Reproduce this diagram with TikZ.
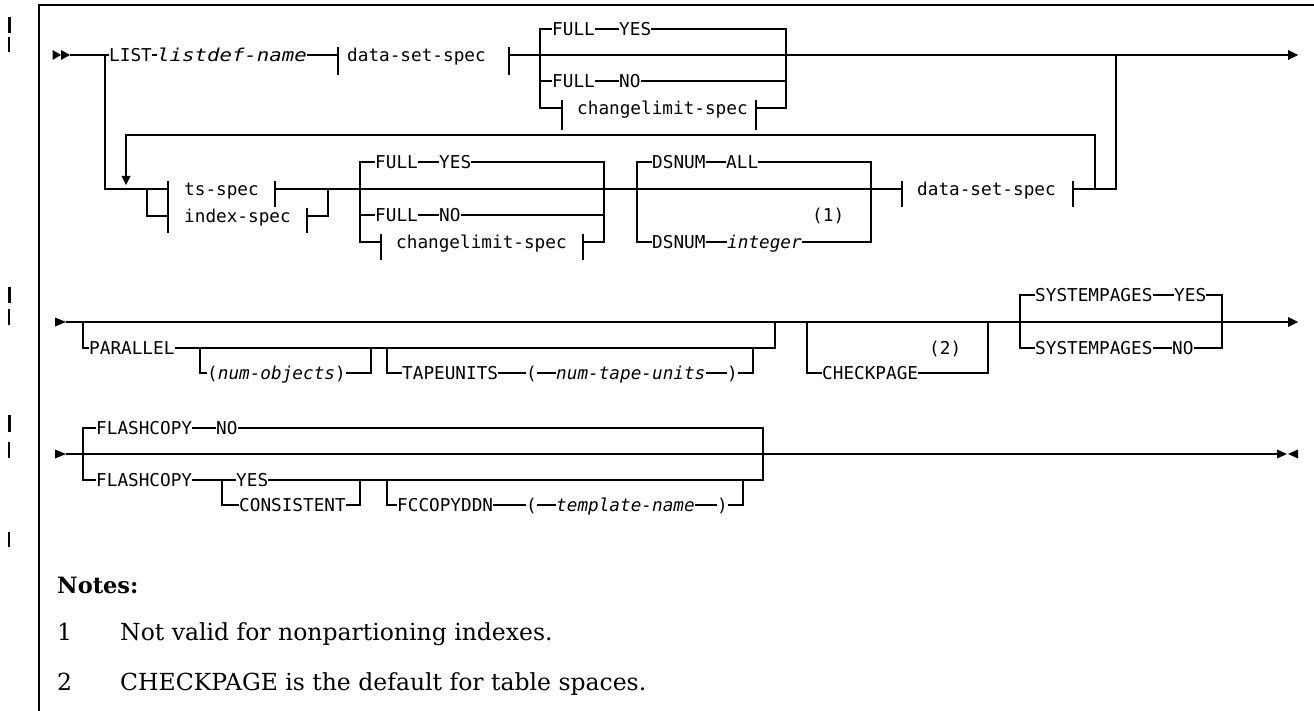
\documentclass[tikz,border=0pt]{standalone}
\usepackage{fontspec}
\usepackage{graphicx}
\newfontfamily\mymono{DejaVu Sans Mono}
\newfontfamily\myserif{DejaVu Serif}
\newcommand{\monof}{\mymono\fontsize{17.7}{20}\selectfont}
\newcommand{\notef}{\myserif\fontsize{23.5}{27}\selectfont}
\newcommand{\notebf}{\myserif\bfseries\fontsize{22.5}{27}\selectfont}
\begin{document}
\begin{tikzpicture}[x=1pt,y=-1pt,
  rail/.style={line width=1.5pt},
  kw/.style={anchor=west,inner sep=0pt,font=\monof,text height=12.9pt,text depth=0pt},
  note/.style={anchor=base west,inner sep=0pt,font=\notef}]
\useasboundingbox (0,0) rectangle (1314,711);
% frame
\draw[line width=1.3pt] (39,711) -- (39,5) -- (1314,5);
% change bars
\draw[line width=3pt] (9,17) -- (9,33);
\draw[line width=1.3pt] (9,37) -- (9,52);
\draw[line width=3pt] (9,287) -- (9,303);
\draw[line width=1.3pt] (9,309) -- (9,325);
\draw[line width=3pt] (9,415) -- (9,432);
\draw[line width=1.3pt] (9,442) -- (9,458);
\draw[line width=1.3pt] (9,532) -- (9,547);

% ---------------- Row 1 ----------------
\fill (52.5,50) -- (61,55) -- (52.5,60) -- cycle;
\fill (61,50) -- (70,55) -- (61,60) -- cycle;
\fill (1288,50) -- (1298,55) -- (1288,60) -- cycle;
\node[kw] (list) at (109,55) {LIST};
\node[kw] (ldn) at (157,55) {\scalebox{1.17}[1]{\itshape listdef-name}};
\node[kw] (dss1) at (347,55) {data-set-spec};
\node[kw] (fulla) at (552,29) {FULL};
\node[kw] (yesa) at (619,29) {YES};
\node[kw] (fullb) at (552,81) {FULL};
\node[kw] (nob) at (619,81) {NO};
\node[kw] (cls1) at (577,108) {changelimit-spec};
\draw[rail] (70,55) -- (list.west);
\draw[rail] (list.east) -- (ldn.west);
\draw[rail] (ldn.east) -- (338,55);
\draw[rail] (338,47) -- (338,75);
\draw[rail] (509,47) -- (509,75);
\draw[rail] (509,55) -- (1288,55);
\draw[rail] (fulla.west) -- (540,29) -- (540,108) -- (562,108);
\draw[rail] (fulla.east) -- (yesa.west);
\draw[rail] (yesa.east) -- (786,29) -- (786,108) -- (756,108);
\draw[rail] (540,81) -- (fullb.west);
\draw[rail] (fullb.east) -- (nob.west);
\draw[rail] (nob.east) -- (786,81);
\draw[rail] (562,100) -- (562,130);
\draw[rail] (756,100) -- (756,130);

% ---------------- Row 2 ----------------
\draw[rail] (105,55) -- (105,189) -- (168,189);
\draw[rail] (147,189) -- (147,216) -- (168,216);
\draw[rail] (168,181) -- (168,233);
\node[kw] (ts) at (184,189) {ts-spec};
\node[kw] (ix) at (184,216) {index-spec};
\draw[rail] (275,181) -- (275,207);
\draw[rail] (307,208) -- (307,233);
\draw[rail] (307,216) -- (328,216) -- (328,189);
\draw[rail] (275,189) -- (902,189);
\node[kw] (fullc) at (375,162) {FULL};
\node[kw] (yesc) at (439,162) {YES};
\node[kw] (fulld) at (375,215) {FULL};
\node[kw] (nod) at (439,215) {NO};
\node[kw] (cls2) at (396,242) {changelimit-spec};
\draw[rail] (fullc.west) -- (360,162) -- (360,242) -- (381,242);
\draw[rail] (fullc.east) -- (yesc.west);
\draw[rail] (yesc.east) -- (604,162) -- (604,242) -- (583,242);
\draw[rail] (360,215) -- (fulld.west);
\draw[rail] (fulld.east) -- (nod.west);
\draw[rail] (nod.east) -- (604,215);
\draw[rail] (381,234) -- (381,260);
\draw[rail] (583,234) -- (583,260);
\node[kw] (dsa) at (652,162) {DSNUM};
\node[kw] (all) at (726,162) {ALL};
\node[kw] (dsb) at (652,242) {DSNUM};
\node[kw] (int) at (727,242) {\itshape integer};
\node[kw] (n1) at (812,215) {(1)};
\draw[rail] (dsa.west) -- (637,162) -- (637,242) -- (dsb.west);
\draw[rail] (dsa.east) -- (all.west);
\draw[rail] (all.east) -- (871,162) -- (871,242) -- (int.east);
\draw[rail] (dsb.east) -- (int.west);
\node[kw] (dss2) at (917,189) {data-set-spec};
\draw[rail] (902,181) -- (902,207);
\draw[rail] (1073,181) -- (1073,207);
\draw[rail] (1073,189) -- (1116,189) -- (1116,55);
\draw[rail] (1095,189) -- (1095,135) -- (126,135) -- (126,177);
\fill (121.5,176) -- (130.5,176) -- (126,185) -- cycle;

% ---------------- Row 3 ----------------
\fill (55,317.5) -- (66,322) -- (55,326.5) -- cycle;
\draw[rail] (66,322) -- (1288,322);
\fill (1288,317) -- (1298,322) -- (1288,327) -- cycle;
\node[kw] (par) at (89,348) {PARALLEL};
\draw[rail] (83,322) -- (83,348) -- (par.west);
\draw[rail] (par.east) -- (775,348) -- (775,322);
\node[kw] (numobj) at (207,373) {({\itshape num-objects})};
\draw[rail] (200,348) -- (200,373) -- (numobj.west);
\draw[rail] (numobj.east) -- (371,373) -- (371,348);
\node[kw] (tape) at (402,373) {TAPEUNITS};
\node[kw] (lp1) at (526,373) {(};
\node[kw] (ntu) at (556,373) {\itshape num-tape-units};
\node[kw] (rp1) at (727,373) {)};
\draw[rail] (387,348) -- (387,373) -- (tape.west);
\draw[rail] (tape.east) -- (lp1.west);
\draw[rail] (lp1.east) -- (ntu.west);
\draw[rail] (ntu.east) -- (rp1.west);
\draw[rail] (rp1.east) -- (753,373) -- (753,348);
\node[kw] (chk) at (822,373) {CHECKPAGE};
\node[kw] (n2) at (929,348) {(2)};
\draw[rail] (807,322) -- (807,373) -- (chk.west);
\draw[rail] (chk.east) -- (988,373) -- (988,322);
\node[kw] (spa) at (1035,295) {SYSTEMPAGES};
\node[kw] (spyes) at (1174,295) {YES};
\node[kw] (spb) at (1035,348) {SYSTEMPAGES};
\node[kw] (spno) at (1172,348) {NO};
\draw[rail] (spa.west) -- (1020,295) -- (1020,348) -- (spb.west);
\draw[rail] (spa.east) -- (spyes.west);
\draw[rail] (spyes.east) -- (1222,295) -- (1222,348) -- (spno.east);
\draw[rail] (spb.east) -- (spno.west);

% ---------------- Row 4 ----------------
\fill (55,449.5) -- (66,454) -- (55,458.5) -- cycle;
\draw[rail] (66,454) -- (1277,454);
\fill (1277,449.5) -- (1287,454) -- (1277,458.5) -- cycle;
\fill (1298,449.5) -- (1288,454) -- (1298,458.5) -- cycle;
\node[kw] (fca) at (96,428) {FLASHCOPY};
\node[kw] (fcno) at (216,428) {NO};
\node[kw] (fcb) at (96,480) {FLASHCOPY};
\node[kw] (fcyes) at (236,480) {YES};
\node[kw] (cons) at (239,505) {CONSISTENT};
\node[kw] (fcc) at (397,505) {FCCOPYDDN};
\node[kw] (lp2) at (526,505) {(};
\node[kw] (tn) at (556,505) {\itshape template-name};
\node[kw] (rp2) at (717,505) {)};
\draw[rail] (fca.west) -- (83,428) -- (83,480) -- (fcb.west);
\draw[rail] (fca.east) -- (fcno.west);
\draw[rail] (fcno.east) -- (763,428) -- (763,480) -- (fcyes.east);
\draw[rail] (fcb.east) -- (fcyes.west);
\draw[rail] (222,480) -- (222,505) -- (cons.west);
\draw[rail] (cons.east) -- (360,505) -- (360,480);
\draw[rail] (387,480) -- (387,505) -- (fcc.west);
\draw[rail] (fcc.east) -- (lp2.west);
\draw[rail] (lp2.east) -- (tn.west);
\draw[rail] (tn.east) -- (rp2.west);
\draw[rail] (rp2.east) -- (743,505) -- (743,480);

% ---------------- Notes ----------------
\node[note,font=\notebf] (notes) at (57,593) {Notes:};
\node[note] (n1num) at (57,640) {1};
\node[note] (n1txt) at (120,640) {Not valid for nonpartioning indexes.};
\node[note] (n2num) at (57,690) {2};
\node[note] (n2txt) at (120,690) {CHECKPAGE is the default for table spaces.};
\end{tikzpicture}
\end{document}
